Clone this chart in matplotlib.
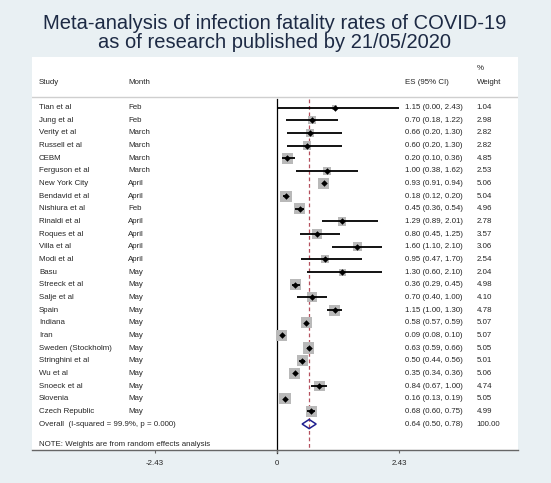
import matplotlib
matplotlib.use('Agg')
import matplotlib.pyplot as plt
from matplotlib.patches import Polygon

plt.rcParams['font.family'] = ['Liberation Sans', 'DejaVu Sans']

studies = ['Tian et al', 'Jung et al', 'Verity et al', 'Russell et al', 'CEBM',
           'Ferguson et al', 'New York City', 'Bendavid et al', 'Nishiura et al',
           'Rinaldi et al', 'Roques et al', 'Villa et al', 'Modi et al', 'Basu',
           'Streeck et al', 'Salje et al', 'Spain', 'Indiana', 'Iran',
           'Sweden (Stockholm)', 'Stringhini et al', 'Wu et al', 'Snoeck et al',
           'Slovenia', 'Czech Republic']
months = ['Feb', 'Feb', 'March', 'March', 'March', 'March', 'April', 'April', 'Feb',
          'April', 'April', 'April', 'April', 'May', 'May', 'May', 'May', 'May', 'May',
          'May', 'May', 'May', 'May', 'May', 'May']
es = [1.15, 0.70, 0.66, 0.60, 0.20, 1.00, 0.93, 0.18, 0.45, 1.29, 0.80, 1.60, 0.95,
      1.30, 0.36, 0.70, 1.15, 0.58, 0.09, 0.63, 0.50, 0.35, 0.84, 0.16, 0.68]
lo = [0.00, 0.18, 0.20, 0.20, 0.10, 0.38, 0.91, 0.12, 0.36, 0.89, 0.45, 1.10, 0.47,
      0.60, 0.29, 0.40, 1.00, 0.57, 0.08, 0.59, 0.44, 0.34, 0.67, 0.13, 0.60]
hi = [2.43, 1.22, 1.30, 1.30, 0.36, 1.62, 0.94, 0.20, 0.54, 2.01, 1.25, 2.10, 1.70,
      2.10, 0.45, 1.00, 1.30, 0.59, 0.10, 0.66, 0.56, 0.36, 1.00, 0.19, 0.75]
weights = [1.04, 2.98, 2.82, 2.82, 4.85, 2.53, 5.06, 5.04, 4.96, 2.78, 3.57, 3.06, 2.54,
           2.04, 4.98, 4.10, 4.78, 5.07, 5.07, 5.05, 5.01, 5.06, 4.74, 5.05, 4.99]
overall_es, overall_lo, overall_hi = 0.64, 0.50, 0.78
overall_label = 'Overall  (I-squared = 99.9%, p = 0.000)'
xticks = [-2.43, 0, 2.43]

bg = '#e9f0f3'
txt = '#262626'
fs = 5.7

fig = plt.figure(figsize=(5.51, 4.83), dpi=100, facecolor=bg)
ax = fig.add_axes([32 / 551, 33 / 483, 486 / 551, 393 / 483])
ax.set_facecolor('white')

ax.set_xlim(-4.88, 4.80)
ax.set_ylim(27.05, -3.99)

n = len(studies)
rows = list(range(n))

# CI lines, weight squares, point markers
ax.hlines(rows, lo, hi, color='black', lw=1.3, zorder=3)
ax.scatter(es, rows, s=[12.8 * w for w in weights], marker='s', color='#b9b9b9',
           zorder=2, linewidths=0)
ax.scatter(es, rows, s=11, marker='D', color='black', zorder=4, linewidths=0)

# reference lines
ax.plot([0, 0], [-0.67, 27.3], color='black', lw=0.9, zorder=1, clip_on=False)
ax.plot([overall_es, overall_es], [-0.67, 27.05], color='#b5505e', lw=0.9,
        dashes=(3, 2.2), zorder=1)

# overall diamond
r = n
diamond = Polygon([(overall_lo, r), (overall_es, r - 0.36), (overall_hi, r),
                   (overall_es, r + 0.36)], closed=True, fill=False,
                  edgecolor='#1f1f8f', lw=1.1, zorder=4)
ax.add_patch(diamond)

# header
ax.text(-4.74, -2.01, 'Study', fontsize=fs, color=txt, va='center')
ax.text(-2.97, -2.01, 'Month', fontsize=fs, color=txt, va='center')
ax.text(2.55, -2.01, 'ES (95% CI)', fontsize=fs, color=txt, va='center')
ax.text(3.98, -2.01, 'Weight', fontsize=fs, color=txt, va='center')
ax.text(3.98, -3.12, '%', fontsize=fs, color=txt, va='center')
ax.axhline(-0.83, color='#cfcfcf', lw=1.0)

# rows
for i in rows:
    ax.text(-4.74, i, studies[i], fontsize=fs, color=txt, va='center')
    ax.text(-2.97, i, months[i], fontsize=fs, color=txt, va='center')
    ax.text(2.55, i, '%.2f (%.2f, %.2f)' % (es[i], lo[i], hi[i]), fontsize=fs,
            color=txt, va='center')
    ax.text(3.98, i, '%.2f' % weights[i], fontsize=fs, color=txt, va='center')

ax.text(-4.74, r, overall_label, fontsize=fs, color=txt, va='center')
ax.text(2.55, r, '%.2f (%.2f, %.2f)' % (overall_es, overall_lo, overall_hi),
        fontsize=fs, color=txt, va='center')
ax.text(3.98, r, '100.00', fontsize=fs, color=txt, va='center')
ax.text(-4.74, 26.58, 'NOTE: Weights are from random effects analysis', fontsize=fs,
        color=txt, va='center')

# axes styling
for s in ['top', 'left', 'right']:
    ax.spines[s].set_visible(False)
ax.spines['bottom'].set_color('#666666')
ax.spines['bottom'].set_linewidth(1.0)
ax.set_yticks([])
ax.set_xticks(xticks)
ax.set_xticklabels(['%g' % t for t in xticks])
ax.tick_params(axis='x', direction='out', length=2.5, width=0.8, color='#666666',
               labelsize=fs, labelcolor=txt, pad=5)

fig.text(274.7 / 551, 1 - 33 / 483,
         'Meta-analysis of infection fatality rates of COVID-19\nas of research published by 21/05/2020',
         ha='center', va='center', fontsize=14.5, color='#1d2a44', linespacing=0.98)

fig.savefig('out.png', dpi=100, facecolor=bg)
